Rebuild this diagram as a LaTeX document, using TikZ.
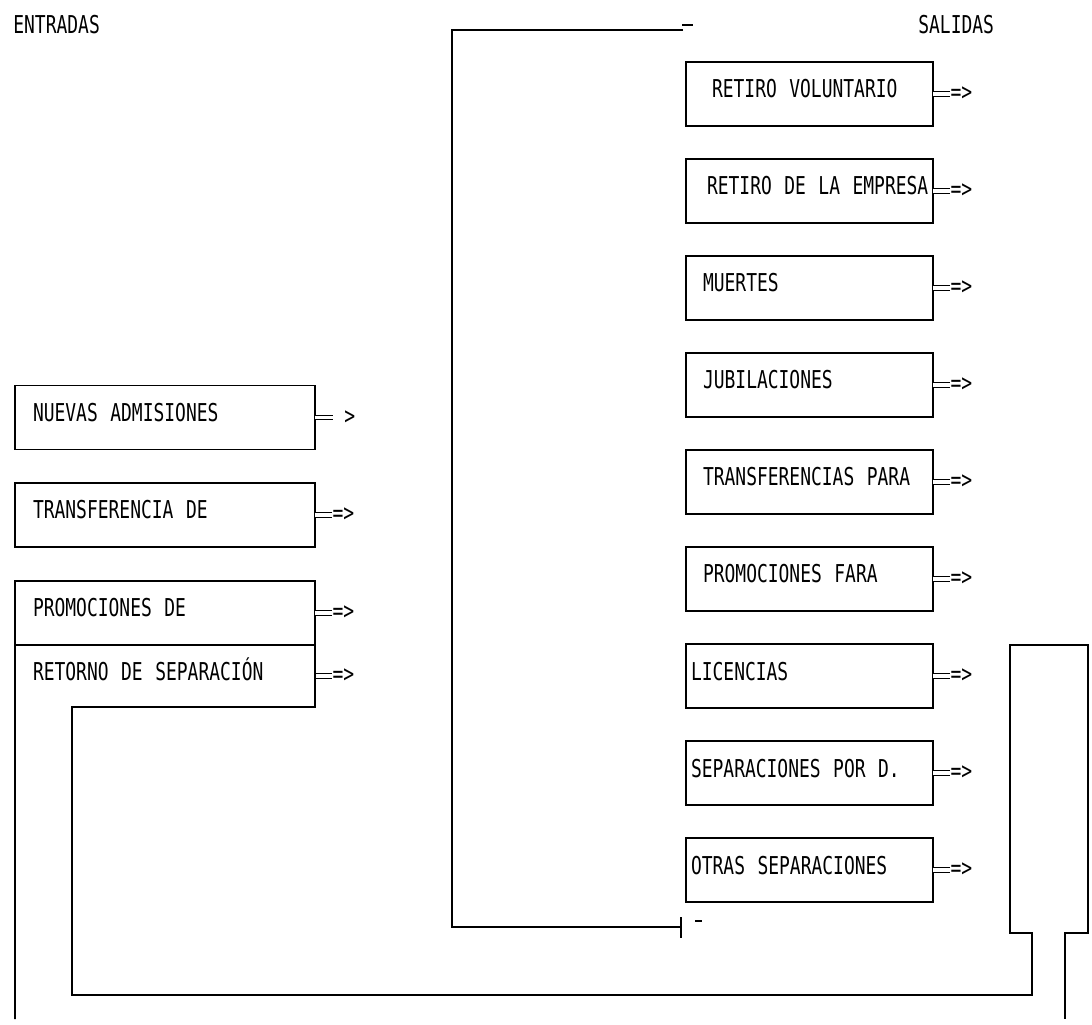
\documentclass[tikz,border=0pt]{standalone}
\usepackage{fontspec}
\newfontfamily\dotmatrix[FakeStretch=0.73]{DejaVu Sans Mono}
\newcommand\printfont{\dotmatrix\fontsize{14pt}{16pt}\selectfont}
\usetikzlibrary{positioning}

\tikzset{
  flowbox/.style={draw, line width=0.9pt, outer sep=0pt, inner xsep=0.1cm, minimum height=1.28cm,
    align=left, text height=0.36cm, text depth=0.2cm, execute at begin node={\spaceskip=0.25cm\relax}},
  inbox/.style={flowbox, text width=5.8cm},
  outbox/.style={flowbox, text width=4.74cm},
  txtpad/.style={execute at begin node={\hspace*{#1}}},
  stub/.style={double, double distance=2pt, line width=0.7pt},
  arrowtxt/.style={anchor=west, inner sep=0pt},
  pipe/.style={line width=1pt}
}

\begin{document}
\begin{tikzpicture}[font=\printfont]
    % Page
    \useasboundingbox (0,0) rectangle (21.84,20.48);

    % Headings
    \node[anchor=west, inner sep=0pt] (entradas) at (0.26,19.98) {ENTRADAS};
    \node[anchor=west, inner sep=0pt] (salidas) at (18.36,19.98) {SALIDAS};

    % Entradas
    \node[inbox, txtpad=0.26cm] (nuevas) at (3.3,12.13) {NUEVAS ADMISIONES};
    \node[inbox, txtpad=0.26cm] (transde) at (3.3,10.18) {TRANSFERENCIA DE};
    \node[inbox, txtpad=0.26cm] (promde) at (3.3,8.22) {PROMOCIONES DE};
    \node[inbox, txtpad=0.26cm, draw=none, minimum height=1.24cm, below=0pt of promde] (retorno) {RETORNO DE SEPARACIÓN};

    % Salidas
    \node[outbox, txtpad=0.42cm] (volunt) at (16.19,18.6) {RETIRO VOLUNTARIO};
    \node[outbox, txtpad=0.32cm] (empresa) at (16.19,16.66) {\mbox{RETIRO DE LA EMPRESA}};
    \node[outbox, txtpad=0.24cm] (muertes) at (16.19,14.72) {MUERTES};
    \node[outbox, txtpad=0.24cm] (jubil) at (16.19,12.78) {JUBILACIONES};
    \node[outbox, txtpad=0.24cm] (transpara) at (16.19,10.84) {TRANSFERENCIAS PARA};
    \node[outbox, txtpad=0.24cm] (prompara) at (16.19,8.9) {PROMOCIONES FARA};
    \node[outbox] (licencias) at (16.19,6.96) {LICENCIAS};
    \node[outbox] (sepd) at (16.19,5.02) {SEPARACIONES POR D.};
    \node[outbox] (otras) at (16.19,3.08) {OTRAS SEPARACIONES};

    % Flow marks
    \draw[stub] (nuevas.east) -- ++(0.36,0) node[arrowtxt] (nuevas-out) {\hphantom{=}>};
    \foreach \b in {transde,promde,retorno,volunt,empresa,muertes,jubil,transpara,prompara,licencias,sepd,otras}
        \draw[stub] (\b.east) -- ++(0.34,0) node[arrowtxt] (\b-out) {=>};

    % Return pipe, open below Retorno
    \coordinate (pipein) at (1.44,0.58);
    \draw[pipe] (retorno.north west) -- (0.3,0.1);
    \draw[pipe] (retorno.north east) -- (retorno.south east) -- (retorno.south east -| pipein) -- (pipein)
        -- (20.64,0.58) -- (20.64,1.82) -- (20.2,1.82) -- (20.2,7.58) -- (21.76,7.58)
        -- (21.76,1.82) -- (21.3,1.82) -- (21.3,0.1);

    % Bracket round Salidas
    \coordinate (bktop) at (13.66,19.88);
    \coordinate (bkbot) at (13.62,1.94);
    \draw[pipe] (bktop) -- (9.04,19.88) -- (9.04,1.94) -- (bkbot);
    \draw[pipe] (13.64,19.98) -- (13.86,19.98);
    \draw[pipe] (13.62,2.14) -- (13.62,1.72);
    \draw[pipe] (13.9,2.06) -- (14.04,2.06);
\end{tikzpicture}
\end{document}
